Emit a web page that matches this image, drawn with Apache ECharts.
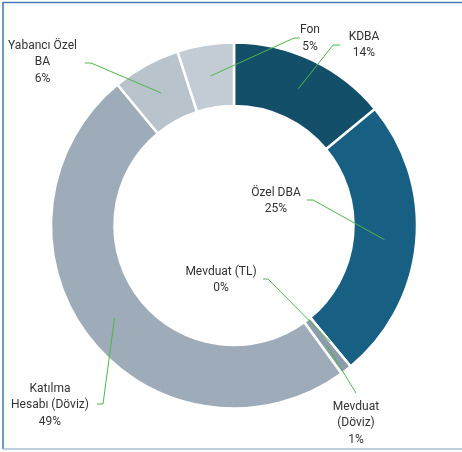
<!DOCTYPE html>
<html>
<head>
<meta charset="utf-8">
<script src="https://cdn.jsdelivr.net/npm/echarts@6/dist/echarts.min.js"></script>
<style>
  html, body { margin: 0; padding: 0; background: #ffffff; }
  #chart { width: 462px; height: 452px; }
</style>
</head>
<body>
<div id="chart"></div>
<script>
// Portfolio breakdown (percent of total)
const categories = ['KDBA', 'Özel DBA', 'Mevduat (TL)', 'Mevduat (Döviz)', 'Katılma Hesabı (Döviz)', 'Yabancı Özel BA', 'Fon'];
const shares = [14, 25, 0, 1, 49, 6, 5];
// Label text as broken across lines
const labelNames = ['KDBA', 'Özel DBA', 'Mevduat (TL)', 'Mevduat\n(Döviz)', 'Katılma\nHesabı (Döviz)', 'Yabancı Özel\nBA', 'Fon'];
const sliceColors = ['#144f6a', '#175f83', '#8d9cab', '#8d9cab', '#9eabb8', '#b8c3cc', '#c3ccd4'];

// Label placement: text block centre, elbow of the leader line, end of the leader line
const labelPlacement = [
  { x: 364, y: 45,  elbow: [333, 45],  end: [340, 45] },
  { x: 276, y: 201, elbow: [313, 200], end: [307, 200] },
  { x: 221, y: 280, elbow: [268, 279], end: [263, 279] },
  { x: 356, y: 423, elbow: null,       end: [356, 393] },
  { x: 50,  y: 405, elbow: [103, 404], end: [97, 404] },
  { x: 42.5, y: 62, elbow: [91, 63],   end: [85, 63] },
  { x: 310, y: 38.5, elbow: [294, 38], end: [300, 38] }
];

const CX = 234, CY = 225.5, R_OUT = 183, R_IN = 119.5;
const total = shares.reduce((a, b) => a + b, 0);

// Anchor point inside each ring segment, at its middle angle
function anchorOf(i) {
  let before = 0;
  for (let k = 0; k < i; k++) before += shares[k];
  const mid = (before + shares[i] / 2) / total * 2 * Math.PI;
  const rm = (R_OUT + R_IN) / 2;
  return [CX + rm * Math.sin(mid), CY - rm * Math.cos(mid)];
}

const baseSeries = {
  type: 'pie',
  center: [CX, CY],
  radius: [R_IN, R_OUT],
  startAngle: 90,
  clockwise: true,
  avoidLabelOverlap: false,
  minShowLabelAngle: 0,
  silent: true
};

const chart = echarts.init(document.getElementById('chart'), null, { renderer: 'canvas' });

chart.setOption({
  backgroundColor: '#ffffff',
  animation: false,
  graphic: [
    { type: 'line', shape: { x1: 3, y1: 2.5, x2: 462, y2: 2.5 }, style: { stroke: '#4a7cb9', lineWidth: 1.6 } },
    { type: 'line', shape: { x1: 3, y1: 2, x2: 3, y2: 449 }, style: { stroke: '#4a7cb9', lineWidth: 1.6 } },
    { type: 'line', shape: { x1: 3, y1: 449, x2: 462, y2: 449 }, style: { stroke: '#a9bfd9', lineWidth: 1.6 } }
  ],
  series: [
    // Ring segments
    Object.assign({}, baseSeries, {
      z: 2,
      itemStyle: { borderColor: '#ffffff', borderWidth: 2.5 },
      label: { show: false },
      labelLine: { show: false },
      data: categories.map((c, i) => ({
        name: c,
        value: shares[i],
        itemStyle: { color: sliceColors[i] }
      }))
    }),
    // Same ring, invisible, carrying labels and leader lines on top
    Object.assign({}, baseSeries, {
      z: 3,
      itemStyle: { color: 'rgba(0,0,0,0)', borderWidth: 0 },
      label: {
        show: true,
        position: 'outside',
        formatter: p => labelNames[p.dataIndex] + '\n' + p.value + '%',
        fontFamily: 'Roboto',
        fontSize: 12,
        lineHeight: 16.5,
        color: '#333333',
        align: 'center'
      },
      labelLine: {
        show: true,
        lineStyle: { color: '#4db848', width: 1 }
      },
      labelLayout: function (params) {
        const i = params.dataIndex;
        const pl = labelPlacement[i];
        const pts = [anchorOf(i)];
        if (pl.elbow) pts.push(pl.elbow);
        pts.push(pl.end);
        return {
          x: pl.x,
          y: pl.y,
          align: 'center',
          verticalAlign: 'middle',
          labelLinePoints: pts
        };
      },
      data: categories.map((c, i) => ({ name: c, value: shares[i] }))
    })
  ]
});
</script>
</body>
</html>
